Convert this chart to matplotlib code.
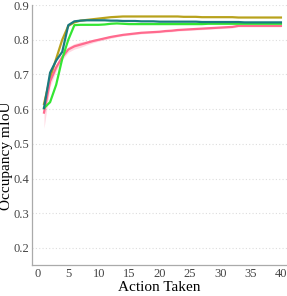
import matplotlib
matplotlib.use("Agg")
import matplotlib.pyplot as plt
import numpy as np

x = np.arange(1, 41)

olive = [0.615, 0.69, 0.745, 0.80, 0.840, 0.850, 0.855, 0.857, 0.859, 0.861,
         0.863, 0.865, 0.866, 0.867, 0.867, 0.867, 0.867, 0.867, 0.867, 0.867,
         0.867, 0.867, 0.867, 0.866, 0.866, 0.866, 0.865, 0.865, 0.865, 0.865,
         0.865, 0.865, 0.864, 0.864, 0.864, 0.864, 0.864, 0.864, 0.864, 0.864]
teal = [0.603, 0.705, 0.74, 0.765, 0.842, 0.853, 0.855, 0.856, 0.856, 0.856,
        0.856, 0.855, 0.855, 0.854, 0.854, 0.854, 0.853, 0.853, 0.853, 0.852,
        0.852, 0.852, 0.852, 0.852, 0.852, 0.852, 0.851, 0.851, 0.851, 0.851,
        0.851, 0.851, 0.851, 0.850, 0.850, 0.850, 0.850, 0.850, 0.850, 0.850]
green = [0.603, 0.62, 0.67, 0.745, 0.80, 0.842, 0.843, 0.843, 0.843, 0.843,
         0.844, 0.846, 0.847, 0.846, 0.845, 0.845, 0.845, 0.845, 0.845, 0.845,
         0.845, 0.845, 0.845, 0.845, 0.845, 0.845, 0.845, 0.846, 0.846, 0.846,
         0.846, 0.846, 0.846, 0.846, 0.846, 0.846, 0.846, 0.846, 0.846, 0.846]
pink = [0.59, 0.68, 0.72, 0.75, 0.772, 0.781, 0.786, 0.791, 0.796, 0.80,
        0.804, 0.808, 0.811, 0.814, 0.816, 0.818, 0.820, 0.821, 0.822, 0.823,
        0.825, 0.826, 0.828, 0.829, 0.830, 0.831, 0.832, 0.833, 0.834, 0.835,
        0.836, 0.837, 0.840, 0.840, 0.840, 0.840, 0.840, 0.840, 0.840, 0.840]
pink_std = [0.045, 0.015, 0.01, 0.008, 0.008, 0.008, 0.008, 0.006, 0.005, 0.004,
            0.004, 0.004, 0.003, 0.003, 0.003, 0.003, 0.003, 0.003, 0.003, 0.003,
            0.003, 0.003, 0.003, 0.003, 0.003, 0.003, 0.003, 0.003, 0.003, 0.003,
            0.003, 0.003, 0.003, 0.003, 0.003, 0.003, 0.003, 0.003, 0.003, 0.003]

series = [
    (olive, "#b8a21c"),
    (pink, "#ff6a8e"),
    (green, "#33e633"),
    (teal, "#1a7a80"),
]

xticks = [0, 5, 10, 15, 20, 25, 30, 35, 40]
yticks = [0.2, 0.3, 0.4, 0.5, 0.6, 0.7, 0.8, 0.9]

plt.rcParams['font.family'] = ['Liberation Serif', 'DejaVu Serif']

fig = plt.figure(figsize=(2.87, 2.96), dpi=100)
ax = fig.add_axes([0.111, 0.105, 0.889, 0.878])

ax.fill_between(x, np.array(pink) - np.array(pink_std), np.array(pink) + np.array(pink_std),
                color="#ff6a8e", alpha=0.25, linewidth=0)
for vals, col in series:
    ax.plot(x, vals, color=col, linewidth=1.6)

ax.set_xlim(-1, 41)
ax.set_ylim(0.151, 0.9)
ax.set_xticks(xticks)
ax.set_yticks(yticks)
ax.set_yticklabels([f"{v:.1f}" for v in yticks])
ax.grid(axis='y', linestyle=(0, (1, 2)), color="#dddddd", linewidth=0.8)
ax.set_axisbelow(True)
for s in ['top', 'right']:
    ax.spines[s].set_visible(False)
for s in ['left', 'bottom']:
    ax.spines[s].set_color("#aaaaaa")
    ax.spines[s].set_linewidth(0.9)
ax.tick_params(length=0, labelsize=9, colors="#444444", pad=2)
ax.set_xlabel("Action Taken", fontsize=11, labelpad=1)
ax.set_ylabel("Occupancy mIoU", fontsize=11)
ax.yaxis.set_label_coords(-0.075, 0.42)

fig.savefig("out.png", dpi=100)
